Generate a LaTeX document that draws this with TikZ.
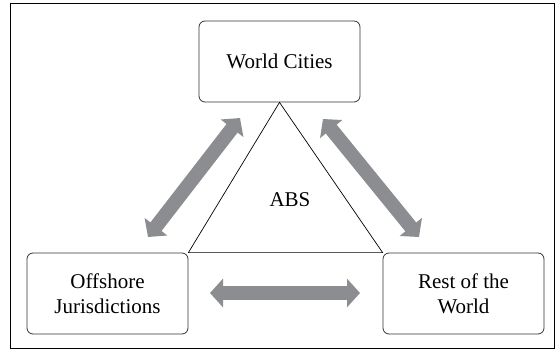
\documentclass[tikz,border=0pt]{standalone}
\usepackage{fontspec}
\setmainfont{Liberation Serif}
\usetikzlibrary{arrows.meta}
\definecolor{flowgray}{HTML}{8C8D90}
\tikzset{
	region/.style={draw=black!80,line width=0.8pt,rounded corners=6pt,minimum width=161pt,minimum height=81pt,align=center,font=\fontsize{21}{25}\selectfont},
	flow/.style={draw=flowgray,line width=14pt,{Triangle[width=28pt,length=13pt]}-{Triangle[width=28pt,length=13pt]}}
}
\begin{document}
		\begin{tikzpicture}[x=1pt,y=-1pt]
			\useasboundingbox (0,0) rectangle (559,351);
			\draw[line width=1pt] (10,3) rectangle (554,348);
			\node[region] (wc) at (279.5,61.5) {World Cities};
			\node[region] (oj) at (107.5,293.5) {Offshore\\Jurisdictions};
			\node[region] (rw) at (463.5,293.5) {Rest of the\\World};
			\draw[line width=0.7pt,line join=miter] (wc.south) -- (oj.north east) -- (rw.north west) -- cycle;
			\node[font=\fontsize{21}{25}\selectfont] (abs) at (290,200) {ABS};
			\coordinate (l1) at (148,237);
			\coordinate (l2) at (240,118);
			\coordinate (r1) at (323,119);
			\coordinate (r2) at (419,237);
			\coordinate (h1) at (210,293);
			\coordinate (h2) at (360,293);
			\draw[flow] (l1) -- (l2);
			\draw[flow] (r1) -- (r2);
			\draw[flow] (h1) -- (h2);
		\end{tikzpicture}
\end{document}
